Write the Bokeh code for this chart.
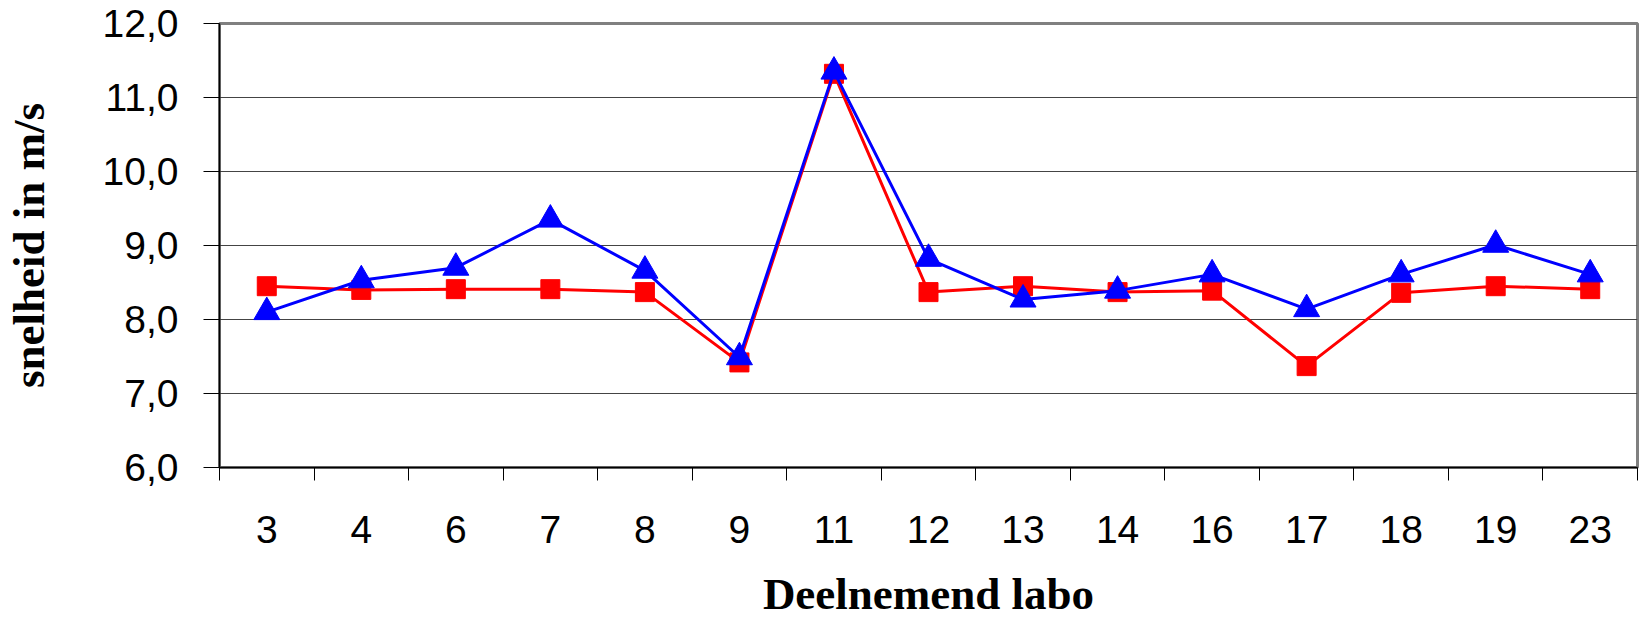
from bokeh.plotting import figure
from bokeh.models import FixedTicker, Range1d
from bokeh.embed import file_html
from bokeh.resources import INLINE

# Data
labos = ["3", "4", "6", "7", "8", "9", "11", "12", "13", "14", "16", "17", "18", "19", "23"]
red_values = [8.45, 8.40, 8.41, 8.41, 8.37, 7.42, 11.32, 8.37, 8.45, 8.37, 8.39, 7.37, 8.36, 8.45, 8.41]
blue_values = [8.10, 8.53, 8.70, 9.35, 8.66, 7.49, 11.35, 8.82, 8.27, 8.39, 8.61, 8.14, 8.61, 9.01, 8.61]
y_ticks = [6, 7, 8, 9, 10, 11, 12]
y_tick_labels = ["6,0", "7,0", "8,0", "9,0", "10,0", "11,0", "12,0"]
x_title = "Deelnemend labo"
y_title = "snelheid in m/s"

xs = [i + 1 for i in range(len(labos))]
bounds = [i + 0.5 for i in range(len(labos) + 1)]

p = figure(width=1641, height=622,
           x_range=Range1d(0.5, len(labos) + 0.5), y_range=Range1d(6, 12),
           output_backend="svg", toolbar_location=None,
           min_border_left=218, min_border_right=4, min_border_top=23, min_border_bottom=155)

p.background_fill_color = "white"
p.outline_line_color = "#808080"
p.outline_line_width = 3

# grid
p.xgrid.visible = False
p.ygrid.ticker = FixedTicker(ticks=y_ticks)
p.ygrid.grid_line_color = "#444444"
p.ygrid.grid_line_width = 1.2

# x axis
p.xaxis.ticker = FixedTicker(ticks=xs, minor_ticks=bounds)
p.xaxis.major_label_overrides = {x: lab for x, lab in zip(xs, labos)}
p.xaxis.major_tick_line_color = None
p.xaxis.major_tick_out = 0
p.xaxis.major_tick_in = 0
p.xaxis.minor_tick_out = 13
p.xaxis.minor_tick_in = 0
p.xaxis.minor_tick_line_color = "black"
p.xaxis.minor_tick_line_width = 1
p.xaxis.major_label_standoff = 35
p.xaxis.axis_label = x_title
p.xaxis.axis_label_standoff = 23

# y axis
p.yaxis.ticker = FixedTicker(ticks=y_ticks)
p.yaxis.major_label_overrides = {t: l for t, l in zip(y_ticks, y_tick_labels)}
p.yaxis.major_tick_out = 16
p.yaxis.major_tick_in = 0
p.yaxis.minor_tick_line_color = None
p.yaxis.major_label_standoff = 25
p.yaxis.axis_label = y_title
p.yaxis.axis_label_standoff = 46

for ax in (p.xaxis, p.yaxis):
    ax.axis_line_color = "black"
    ax.axis_line_width = 1.5
    ax.major_tick_line_width = 1
    ax.major_label_text_font = "Liberation Sans"
    ax.major_label_text_font_size = "39px"
    ax.major_label_text_color = "black"
    ax.axis_label_text_font = "Liberation Serif"
    ax.axis_label_text_font_style = "bold"
    ax.axis_label_text_font_size = "45px"
    ax.axis_label_text_color = "black"

# red series
p.line(xs, red_values, line_color="#FF0000", line_width=3)
p.scatter(xs, red_values, marker="square", size=19, fill_color="#FF0000", line_color="#FF0000")
# blue series
p.line(xs, blue_values, line_color="#0000FF", line_width=3)
p.scatter(xs, blue_values, marker="triangle", size=26, fill_color="#0000FF", line_color="#0000FF")

open("out.html", "w").write(file_html(p, INLINE))
